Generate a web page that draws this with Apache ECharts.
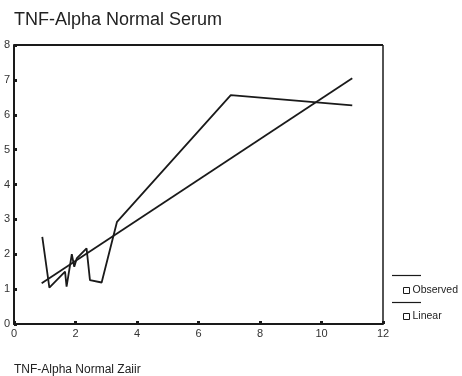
<!DOCTYPE html>
<html>
<head>
<meta charset="utf-8">
<script src="https://cdn.jsdelivr.net/npm/echarts@6/dist/echarts.min.js"></script>
<style>
  html, body { margin: 0; padding: 0; background: #fff; }
  #chart { width: 462px; height: 376px; }
</style>
</head>
<body>
<div id="chart"></div>
<script>
  // observed curve
  const observedX = [0.92, 1.15, 1.66, 1.71, 1.88, 1.96, 2.04, 2.36, 2.47, 2.85, 3.35, 7.05, 11.0];
  const observedY = [2.50, 1.04, 1.50, 1.07, 2.00, 1.64, 1.88, 2.17, 1.26, 1.19, 2.93, 6.56, 6.27];
  // fitted linear line endpoints
  const linearX = [0.9, 11.0];
  const linearY = [1.17, 7.05];
  const seriesNames = ["Observed", "Linear"];

  const font = "Liberation Sans, Arial, sans-serif";
  const ink = "#1a1a1a";

  const chart = echarts.init(document.getElementById("chart"), null, { renderer: "canvas" });

  const pairs = (xs, ys) => xs.map((x, i) => [x, ys[i]]);

  chart.setOption({
    animation: false,
    backgroundColor: "#fff",
    title: {
      text: "TNF-Alpha Normal Serum",
      left: 9, top: 6,
      textStyle: { fontFamily: font, fontSize: 18, fontWeight: "normal", color: "#222" }
    },
    grid: { left: 14, right: 79, top: 45, bottom: 52 },
    xAxis: {
      type: "value", min: 0, max: 12, interval: 2,
      name: "TNF-Alpha Normal Zaiir",
      nameLocation: "start",
      nameGap: 0,
      nameTextStyle: { fontFamily: font, fontSize: 12, color: "#222", align: "left", verticalAlign: "top", padding: [40, 0, 0, 0] },
      axisLine: { lineStyle: { color: ink, width: 2 } },
      axisTick: { show: true, inside: true, length: 3, lineStyle: { color: ink, width: 3 } },
      axisLabel: { fontFamily: font, fontSize: 11, color: "#333", margin: 4 },
      splitLine: { show: false }
    },
    yAxis: {
      type: "value", min: 0, max: 8, interval: 1,
      axisLine: { lineStyle: { color: ink, width: 2 } },
      axisTick: { show: true, inside: true, length: 3, lineStyle: { color: ink, width: 3 } },
      axisLabel: { fontFamily: font, fontSize: 11, color: "#333", margin: 4 },
      splitLine: { show: false }
    },
    legend: {
      data: seriesNames,
      orient: "vertical",
      left: 398, top: 280,
      itemWidth: 6, itemHeight: 6,
      itemGap: 15,
      icon: "rect",
      itemStyle: { color: "#fff", borderColor: ink, borderWidth: 1 },
      textStyle: { fontFamily: font, fontSize: 10.5, color: "#222", padding: [0, 0, 0, -2] }
    },
    graphic: [
      // box top and right borders
      { type: "line", shape: { x1: 14, y1: 45, x2: 383, y2: 45 }, style: { stroke: ink, lineWidth: 2 } },
      { type: "line", shape: { x1: 383, y1: 45, x2: 383, y2: 324 }, style: { stroke: ink, lineWidth: 1.5 } },
      // legend line swatches
      { type: "line", shape: { x1: 392, y1: 275.5, x2: 421, y2: 275.5 }, style: { stroke: ink, lineWidth: 1.2 } },
      { type: "line", shape: { x1: 392, y1: 302.5, x2: 421, y2: 302.5 }, style: { stroke: ink, lineWidth: 1.2 } }
    ],
    series: [
      {
        name: seriesNames[0], type: "line", data: pairs(observedX, observedY),
        showSymbol: false, lineStyle: { color: ink, width: 1.8 }, itemStyle: { color: ink }
      },
      {
        name: seriesNames[1], type: "line", data: pairs(linearX, linearY),
        showSymbol: false, lineStyle: { color: ink, width: 1.8 }, itemStyle: { color: ink }
      }
    ]
  });
</script>
</body>
</html>
